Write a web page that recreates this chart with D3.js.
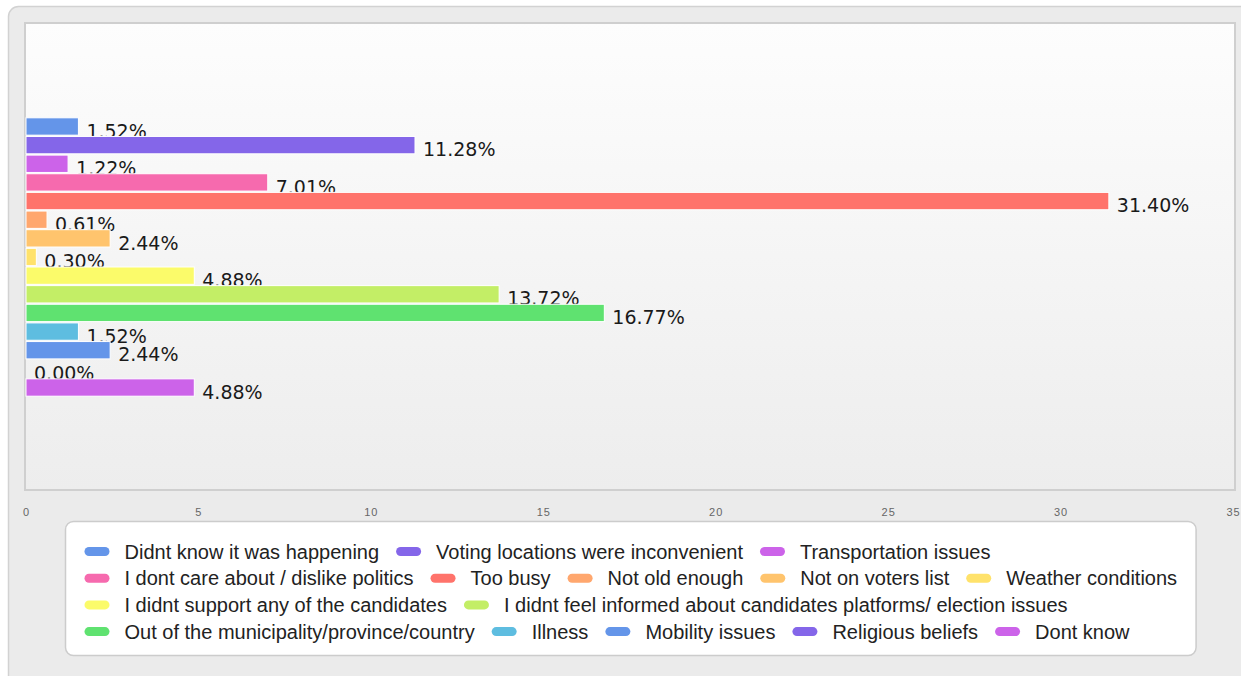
<!DOCTYPE html>
<html>
<head>
<meta charset="utf-8">
<script src="https://cdn.jsdelivr.net/npm/d3@7"></script>
<style>
  body { margin: 0; background: #fff; }
  svg { display: block; }
</style>
</head>
<body>
<div id="chart"></div>
<script>
// series (one bar each), in drawing order
var seriesNames = [
  "Didnt know it was happening",
  "Voting locations were inconvenient",
  "Transportation issues",
  "I dont care about / dislike politics",
  "Too busy",
  "Not old enough",
  "Not on voters list",
  "Weather conditions",
  "I didnt support any of the candidates",
  "I didnt feel informed about candidates platforms/ election issues",
  "Out of the municipality/province/country",
  "Illness",
  "Mobility issues",
  "Religious beliefs",
  "Dont know"
];
var seriesValues = [1.52, 11.28, 1.22, 7.01, 31.40, 0.61, 2.44, 0.30, 4.88, 13.72, 16.77, 1.52, 2.44, 0.00, 4.88];
var seriesColors = [
  "#6495e9", "#8466e9", "#cc63e9", "#f66aae", "#ff736b", "#ffa76e", "#ffc46d", "#ffe26b",
  "#fbfb6a", "#c3ee66", "#5fe270", "#5ebde0", "#6495e9", "#8466e9", "#cc63e9"
];
var xTicks = [0, 5, 10, 15, 20, 25, 30, 35];

var W = 1241, H = 676;
var plot = {left: 26, top: 24, right: 1234, bottom: 490};

var svg = d3.select("#chart").append("svg")
    .attr("width", W)
    .attr("height", H);

var defs = svg.append("defs");
var grad = defs.append("linearGradient")
    .attr("id", "plotbg")
    .attr("x1", 0).attr("y1", 0).attr("x2", 0).attr("y2", 1);
grad.append("stop").attr("offset", "0%").attr("stop-color", "#fdfdfd");
grad.append("stop").attr("offset", "100%").attr("stop-color", "#ededed");

// outer frame
svg.append("rect")
    .attr("x", 8.5).attr("y", 6.5)
    .attr("width", 1260).attr("height", 700)
    .attr("rx", 10)
    .attr("fill", "#ebebeb")
    .attr("stroke", "#d2d2d2")
    .attr("stroke-width", 1.5);

// plot area
svg.append("rect")
    .attr("x", plot.left - 1).attr("y", plot.top - 1)
    .attr("width", plot.right - plot.left + 2)
    .attr("height", plot.bottom - plot.top + 1)
    .attr("fill", "url(#plotbg)")
    .attr("stroke", "#cfcfcf")
    .attr("stroke-width", 2);

var x = d3.scaleLinear()
    .domain([0, 35])
    .range([plot.left, plot.right - 1]);

// one category, all series grouped inside it
var outer = d3.scaleBand()
    .domain(["all"])
    .range([plot.top, plot.bottom])
    .paddingOuter(0.337);

var y = d3.scaleBand()
    .domain(d3.range(seriesNames.length))
    .range([outer("all"), outer("all") + outer.bandwidth()])
    .paddingInner(0.07);

var groups = svg.selectAll("g.series")
    .data(seriesValues)
    .enter()
    .append("g")
        .attr("class", "series");

groups.append("rect")
    .attr("x", x(0))
    .attr("y", function(d, i) { return y(i); })
    .attr("width", function(d) { return Math.max(0, x(d) - x(0)); })
    .attr("height", y.bandwidth())
    .attr("fill", function(d, i) { return seriesColors[i]; })
    .attr("stroke", function(d) { return d > 0 ? "#fff" : "none"; })
    .attr("stroke-width", 1);

groups.append("text")
    .attr("x", function(d) { return x(d) + 8; })
    .attr("y", function(d, i) { return y(i) + y.bandwidth() + 2.5; })
    .attr("font-family", "'DejaVu Sans', Verdana, sans-serif")
    .attr("font-size", 19)
    .attr("fill", "#1a1a1a")
    .text(function(d) { return d.toFixed(2) + "%"; });

// x axis (labels only)
var axis = svg.append("g")
    .attr("transform", "translate(0," + 508 + ")")
    .call(d3.axisBottom(x).tickValues(xTicks).tickSize(0).tickPadding(0));
axis.select(".domain").remove();
axis.selectAll("text")
    .attr("font-family", "'Liberation Sans', Arial, sans-serif")
    .attr("font-size", 11)
    .attr("letter-spacing", 1)
    .attr("fill", "#666");

// legend
var legendFont = 20, pillW = 25, pillH = 9, pillGap = 15, itemGap = 17, rowH = 26.7;
var maxRowW = 1110;
var legend = svg.append("g");
var box = legend.append("rect");
var items = legend.selectAll("g.item")
    .data(seriesNames)
    .enter()
    .append("g")
        .attr("class", "item");

items.append("rect")
    .attr("width", pillW).attr("height", pillH)
    .attr("rx", 4.5)
    .attr("y", -pillH / 2)
    .attr("fill", function(d, i) { return seriesColors[i]; });

items.append("text")
    .attr("x", pillW + pillGap)
    .attr("dy", "0.35em")
    .attr("font-family", "'Liberation Sans', Arial, sans-serif")
    .attr("font-size", legendFont)
    .attr("fill", "#222")
    .text(function(d) { return d; });

var rows = [[]], cur = 0, widest = 0;
items.each(function(d, i) {
    var w = pillW + pillGap + this.querySelector("text").getComputedTextLength();
    var start = rows[rows.length - 1].length ? cur + itemGap : 0;
    if (start + w > maxRowW && rows[rows.length - 1].length) {
        rows.push([]);
        start = 0;
    }
    rows[rows.length - 1].push({node: this, x: start});
    cur = start + w;
    widest = Math.max(widest, cur);
});

var padX = 19, padTop = 30, padBottom = 24;
var boxW = widest + padX * 2;
var boxH = padTop + (rows.length - 1) * rowH + padBottom;
var boxX = Math.round((plot.left + plot.right) / 2 - boxW / 2) + 0.5;
var boxY = 521.5;

box.attr("x", boxX).attr("y", boxY)
    .attr("width", boxW).attr("height", boxH)
    .attr("rx", 8)
    .attr("fill", "#fff")
    .attr("stroke", "#cccccc")
    .attr("stroke-width", 1.5);

rows.forEach(function(row, r) {
    row.forEach(function(it) {
        d3.select(it.node).attr("transform",
            "translate(" + (boxX + padX + it.x) + "," + (boxY + padTop + r * rowH) + ")");
    });
});
</script>
</body>
</html>
